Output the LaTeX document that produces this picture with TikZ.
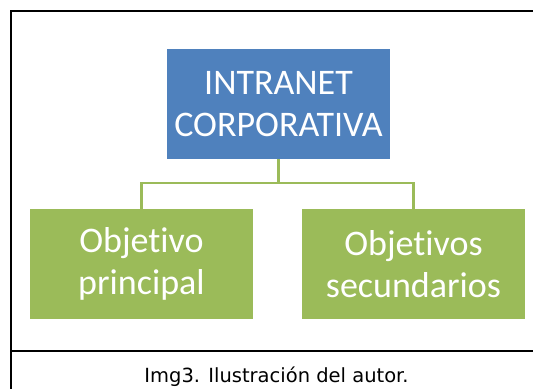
\documentclass[tikz,border=0pt]{standalone}
\usepackage{fontspec}
\usetikzlibrary{calc}
\setmainfont{Carlito}[Ligatures={NoCommon}]
\newfontfamily\captionfont{DejaVu Sans}
\definecolor{boxblue}{HTML}{4F81BD}
\definecolor{boxgreen}{HTML}{9BBB59}
\begin{document}
\begin{tikzpicture}[x=1pt,y=1pt,
  orgbox/.style={rectangle, inner sep=0pt, minimum width=223pt, minimum height=110pt,
    text=white, align=center, font=\fontsize{36}{41.5}\selectfont},
  topbox/.style={orgbox, fill=boxblue},
  subbox/.style={orgbox, fill=boxgreen},
  link/.style={draw=boxgreen, line width=2.2pt},
  frameline/.style={draw=black, line width=2.5pt},
  sepline/.style={draw=black, line width=1.3pt}]
\useasboundingbox (0,0) rectangle (533,-389);
\draw[frameline] (533,-11) -- (11,-11) -- (11,-389);
\draw[sepline] (11,-351) -- (533,-351);
\node[topbox] (top) at (278.5,-104) {INTRANET\\CORPORATIVA};
\node[subbox] (left) at (141.5,-264) {Objetivo\\principal};
\node[subbox] (right) at (413.5,-264) {Objetivos\\secundarios};
\coordinate (mid) at ($(top.south)+(0,-24)$);
\draw[link] (top.south) -- (mid) -| (left.north);
\draw[link] (mid) -| (right.north);
\node[anchor=base, font=\captionfont\fontsize{19.5}{22}\selectfont] (cap) at (276.5,-382) {Img3. Ilustración del autor.};
\end{tikzpicture}
\end{document}
